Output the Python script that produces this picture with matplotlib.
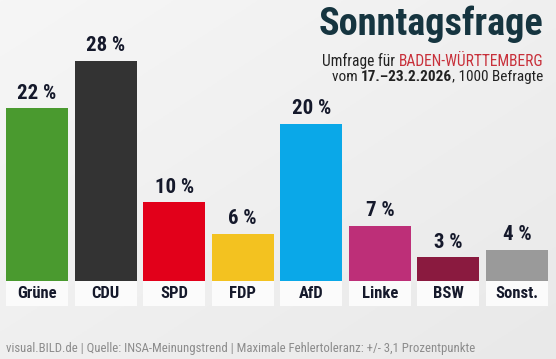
import numpy as np
import matplotlib
matplotlib.use("Agg")
import matplotlib.pyplot as plt
from matplotlib.colors import LinearSegmentedColormap

# --- data ---
parties = ["Grüne", "CDU", "SPD", "FDP", "AfD", "Linke", "BSW", "Sonst."]
values = [22, 28, 10, 6, 20, 7, 3, 4]
colors = ["#4a9a2f", "#333333", "#e2001a", "#f3c220", "#0aa8e8",
          "#bd2f78", "#8a1a3f", "#9a9a9a"]

title = "Sonntagsfrage"
sub_plain = "Umfrage für "
sub_region = "BADEN-WÜRTTEMBERG"
date_pre, date_bold, date_post = "vom ", "17.–23.2.2026", ", 1000 Befragte"
footer = "visual.BILD.de | Quelle: INSA-Meinungstrend | Maximale Fehlertoleranz: +/- 3,1 Prozentpunkte"

W, H = 556, 359
FONT = ["Roboto Condensed", "Liberation Sans Narrow", "Open Sans Condensed",
        "Roboto", "DejaVu Sans"]
plt.rcParams["font.family"] = FONT
plt.rcParams["font.stretch"] = "condensed"

fig = plt.figure(figsize=(W / 100, H / 100), dpi=100)

# soft grey background
bg = fig.add_axes([0, 0, 1, 1])
grad = np.linspace(0, 1, 256)
gx, gy = np.meshgrid(grad, grad)
bg.imshow(0.5 * gx + 0.5 * gy, cmap=LinearSegmentedColormap.from_list(
    "bg", ["#f6f6f6", "#e9e9e9"]), aspect="auto", extent=[0, 1, 0, 1])
bg.set_axis_off()

# bar axes: 7.857 px per percent, baseline at 281 px from top
px_per = 220 / 28
pitch = 480 / 7
ax = fig.add_axes([0, 0, 1, 1])
ax.set_xlim(-37 / pitch, (W - 37) / pitch)
ax.set_ylim(-78 / px_per, (H - 78) / px_per)
ax.set_axis_off()
ax.patch.set_alpha(0)

x = np.arange(len(parties))
bw = 62 / pitch
ax.bar(x, values, width=bw, color=colors, zorder=2)

box_h = 25 / px_per
ax.bar(x, box_h, bottom=-box_h, width=bw, color="#fbfbfb", zorder=2)

for xi, v, name in zip(x, values, parties):
    ax.annotate(f"{v} %", (xi, v), xytext=(0, 4), textcoords="offset points",
                ha="center", va="bottom", fontsize=15, fontweight="bold",
                color="#15192b")
    ax.text(xi, -box_h / 2, name, ha="center", va="center", fontsize=12,
            fontweight="bold", color="#15192b")

# header
def fy(py):
    return 1 - py / H

fig.text(543 / W, fy(35), title, ha="right", va="baseline", fontsize=27.5,
         fontweight="bold", color="#163540")

t = fig.text(543 / W, fy(66), sub_region, ha="right", va="baseline",
             fontsize=11.2, color="#c8303a")
fig.canvas.draw()
ax.annotate(sub_plain, xy=(0, 0), xycoords=t, ha="right", va="bottom",
            fontsize=11.2, color="#222222")

t3 = fig.text(543 / W, fy(81), date_post, ha="right", va="baseline",
              fontsize=11, color="#222222")
t2 = ax.annotate(date_bold, xy=(0, 0), xycoords=t3, ha="right", va="bottom",
                 fontsize=11, fontweight="bold", color="#222222")
ax.annotate(date_pre, xy=(0, 0), xycoords=t2, ha="right", va="bottom",
            fontsize=11, color="#222222")

# footer
fig.text(6 / W, fy(352), footer, ha="left", va="baseline", fontsize=9.2,
         color="#8c8c8c")

fig.savefig("out.png", dpi=100)
